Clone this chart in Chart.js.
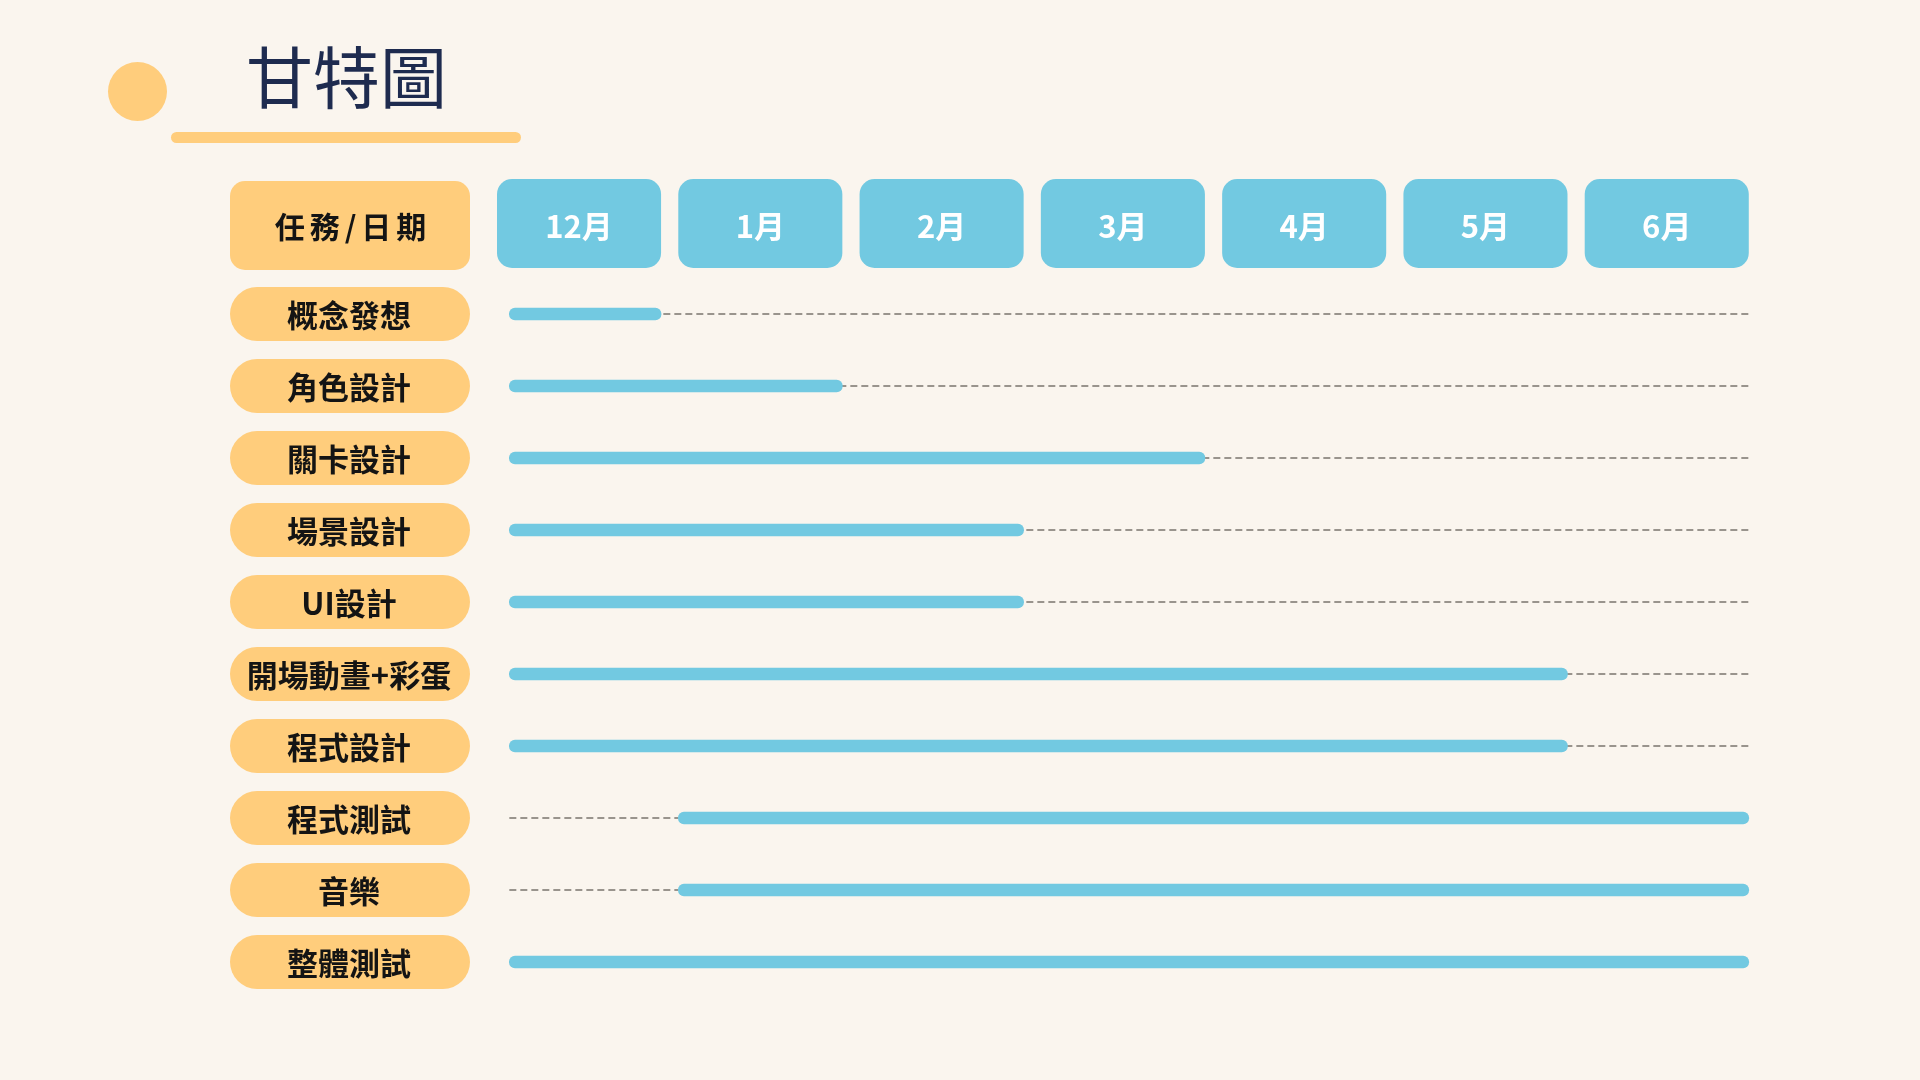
<!DOCTYPE html>
<html><head><meta charset="utf-8">
<script src="https://cdn.jsdelivr.net/npm/chart.js@4"></script>
<style>
html,body{margin:0;padding:0;background:#faf5ee;}
#wrap{position:relative;width:1920px;height:1080px;overflow:hidden;background:#faf5ee;}
#c{position:absolute;left:0;top:0;}
.dot{position:absolute;left:108px;top:62px;width:59px;height:59px;border-radius:50%;background:#ffcd7c;}
.title{position:absolute;left:246px;top:34px;font-family:"Noto Sans CJK TC","Noto Sans CJK SC",sans-serif;font-weight:400;font-size:67px;line-height:80px;color:#1e2b4f;white-space:nowrap;}
.underline{position:absolute;left:171px;top:132px;width:350px;height:11px;border-radius:6px;background:#ffcd7c;}
</style></head>
<body><div id="wrap">
<div class="dot"></div><div class="title">甘特圖</div><div class="underline"></div>
<canvas id="c" width="1920" height="1080"></canvas>
</div>
<script>
// ---- data ----
const tasks = ['概念發想','角色設計','關卡設計','場景設計','UI設計','開場動畫+彩蛋','程式設計','程式測試','音樂','整體測試'];
const months = ['12月','1月','2月','3月','4月','5月','6月'];
const startMonth = [0,0,0,0,0,0,0,1,1,0];   // index into months (first month of task)
const endMonth   = [0,1,3,2,2,5,5,6,6,6];   // index into months (last month of task, inclusive)
const headerLabel = '任務/日期';

// ---- layout constants ----
const LEAD = 0.068;   // timeline starts slightly inside first month box
const BOX = 0.905;    // month box width as fraction of month slot
const ORANGE = '#ffcd7c', BLUE = '#72c9e1';
const FONT = '"Noto Sans CJK TC","Noto Sans CJK SC",sans-serif';

function rr(ctx,x,y,w,h,r){ctx.beginPath();ctx.roundRect(x,y,w,h,r);ctx.fill();}

const ganttDecor = {
  id:'ganttDecor',
  beforeDatasetsDraw(chart){
    const ctx = chart.ctx, xs = chart.scales.x, ys = chart.scales.y;
    const y0 = ys.getPixelForValue(0);
    const hy = y0 - 89;
    ctx.save();
    // header: task/date box
    ctx.fillStyle = ORANGE;
    rr(ctx,230,hy-44,240,89,15);
    ctx.fillStyle = '#141414';
    ctx.font = 'bold 30px '+FONT;
    ctx.textAlign='center'; ctx.textBaseline='middle';
    ctx.letterSpacing = '5px';
    ctx.fillText(headerLabel, 353, hy+2);
    ctx.letterSpacing = '0px';
    // month boxes
    months.forEach((m,i)=>{
      const x1 = xs.getPixelForValue(i), x2 = xs.getPixelForValue(i+BOX);
      ctx.fillStyle = BLUE;
      rr(ctx,x1,hy-46,x2-x1,89,15);
      ctx.fillStyle = '#ffffff';
      ctx.font = 'bold 31px '+FONT;
      ctx.fillText(m,(x1+x2)/2,hy+1);
    });
    // task pills + dashed tracks
    tasks.forEach((t,i)=>{
      const y = ys.getPixelForValue(i);
      ctx.fillStyle = ORANGE;
      rr(ctx,230,y-27,240,54,27);
      ctx.fillStyle = '#141414';
      ctx.font = 'bold 31px '+FONT;
      ctx.fillText(t,349,y+1);
      ctx.strokeStyle = '#99948d'; ctx.lineWidth = 2; ctx.setLineDash([7,4]);
      ctx.beginPath();
      ctx.moveTo(xs.getPixelForValue(LEAD), y);
      ctx.lineTo(xs.getPixelForValue(months.length-1+BOX), y);
      ctx.stroke();
      ctx.setLineDash([]);
    });
    ctx.restore();
  }
};

new Chart(document.getElementById('c'),{
  type:'bar',
  data:{labels:tasks,datasets:[{
    data:tasks.map((t,i)=>[Math.max(startMonth[i],LEAD), endMonth[i]+BOX]),
    backgroundColor:BLUE, barThickness:12, borderRadius:6, borderSkipped:false
  }]},
  options:{
    indexAxis:'y', responsive:false, animation:false,
    layout:{padding:{left:497,right:154,top:278,bottom:82}},
    scales:{x:{type:'linear',min:0,max:7,display:false},y:{display:false}},
    plugins:{legend:{display:false},tooltip:{enabled:false}}
  },
  plugins:[ganttDecor]
});
</script>
</body></html>
